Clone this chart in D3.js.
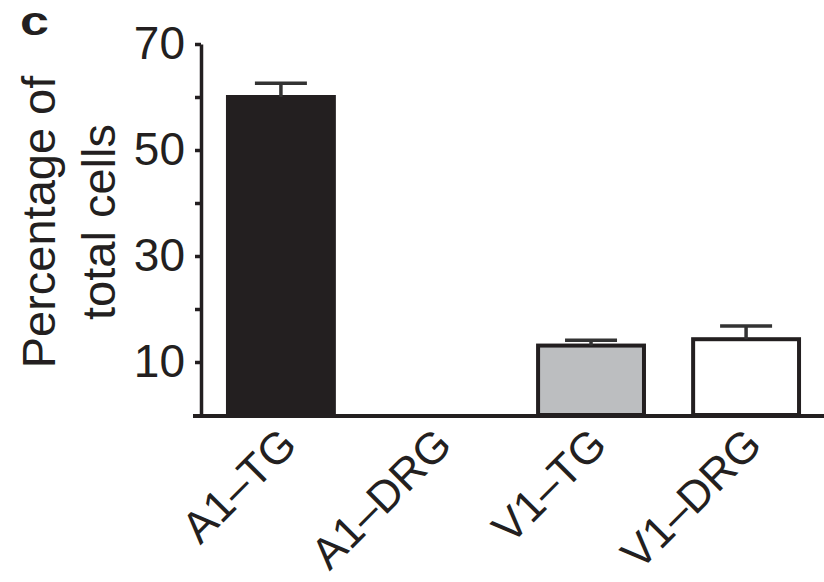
<!DOCTYPE html>
<html>
<head>
<meta charset="utf-8">
<script src="https://cdn.jsdelivr.net/npm/d3@7"></script>
<style>
  html, body { margin: 0; padding: 0; background: #fff; }
  svg { display: block; }
  text { font-family: 'Liberation Sans', Arial, Helvetica, sans-serif; fill: #231f20; }
</style>
</head>
<body>
<svg id="chart" width="824" height="582"></svg>
<script>
const groups = ['A1–TG', 'A1–DRG', 'V1–TG', 'V1–DRG'];
const values = [60, 0, 13.1, 14.3];
const errors = [2.6, 0, 1.0, 2.5];
const fills = ['#231f20', '#ffffff', '#bcbec0', '#ffffff'];
const yTicks = [10, 20, 30, 40, 50, 60, 70];
const yLabels = [10, 30, 50, 70];

const ink = '#231f20';
const svg = d3.select('#chart');

const x = d3.scaleBand()
  .domain(groups)
  .range([203, 824])
  .paddingInner(0.317)
  .paddingOuter(0.161);

const y = d3.scaleLinear().domain([0, 70]).range([415, 44]);

// y axis
const yAxis = svg.append('g')
  .attr('transform', 'translate(201,0)')
  .call(d3.axisLeft(y)
    .tickValues(yTicks)
    .tickSize(6)
    .tickSizeOuter(0)
    .tickPadding(10)
    .tickFormat((d) => (yLabels.includes(d) ? d : '')));

yAxis.select('.domain').attr('stroke', ink).attr('stroke-width', 3.5);
yAxis.selectAll('.tick line').attr('stroke', ink).attr('stroke-width', 3.5);
yAxis.selectAll('.tick text')
  .attr('font-size', 46)
  .attr('font-family', "'Liberation Sans', Arial, sans-serif")
  .attr('fill', ink);

// bars
const data = groups.map((g, i) => ({ g, v: values[i], e: errors[i], fill: fills[i] }));

svg.append('g')
  .selectAll('rect')
  .data(data.filter((d) => d.v > 0))
  .join('rect')
  .attr('x', (d) => x(d.g))
  .attr('y', (d) => y(d.v))
  .attr('width', x.bandwidth())
  .attr('height', (d) => y(0) - y(d.v))
  .attr('fill', (d) => d.fill)
  .attr('stroke', ink)
  .attr('stroke-width', 4);

// error bars (upper only)
const errG = svg.append('g')
  .selectAll('g')
  .data(data.filter((d) => d.e > 0))
  .join('g')
  .attr('stroke', '#333')
  .attr('stroke-width', 3.5);

errG.append('line')
  .attr('x1', (d) => x(d.g) + x.bandwidth() / 2)
  .attr('x2', (d) => x(d.g) + x.bandwidth() / 2)
  .attr('y1', (d) => y(d.v))
  .attr('y2', (d) => y(d.v + d.e));

errG.append('line')
  .attr('x1', (d) => x(d.g) + x.bandwidth() / 2 - 26)
  .attr('x2', (d) => x(d.g) + x.bandwidth() / 2 + 26)
  .attr('y1', (d) => y(d.v + d.e))
  .attr('y2', (d) => y(d.v + d.e));

// x axis baseline
svg.append('line')
  .attr('x1', 193)
  .attr('x2', 824)
  .attr('y1', y(0) + 1)
  .attr('y2', y(0) + 1)
  .attr('stroke', ink)
  .attr('stroke-width', 4);

// category labels, rotated
svg.append('g')
  .selectAll('text')
  .data(groups)
  .join('text')
  .attr('transform', (d) => `translate(${x(d) + x.bandwidth() / 2 + 18},${y(0) + 32}) rotate(-45)`)
  .attr('text-anchor', 'end')
  .attr('font-size', 44)
  .text((d) => d);

// y axis title
const titleLines = ['Percentage of', 'total cells'];
svg.append('g')
  .selectAll('text')
  .data(titleLines)
  .join('text')
  .attr('transform', (d, i) => `translate(${55 + i * 60},222) rotate(-90)`)
  .attr('text-anchor', 'middle')
  .attr('font-size', 47)
  .text((d) => d);

// panel letter
svg.append('text')
  .attr('transform', 'translate(20,35) scale(1.3,1)')
  .attr('font-size', 40)
  .attr('font-weight', 'bold')
  .text('c');
</script>
</body>
</html>
